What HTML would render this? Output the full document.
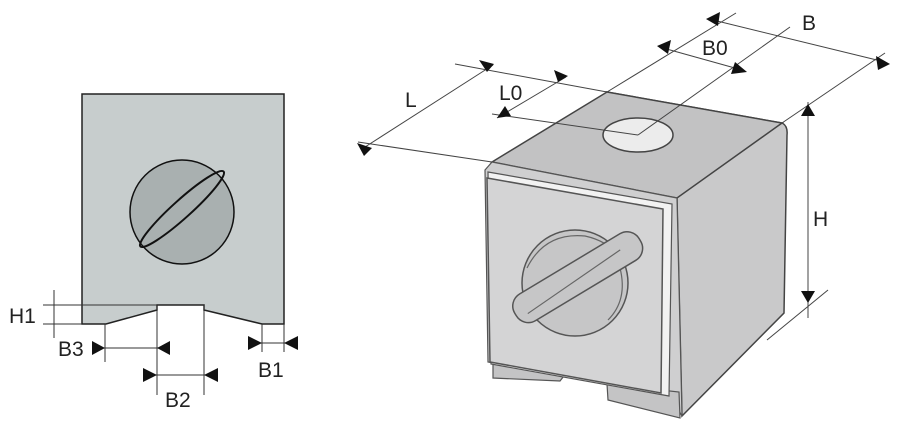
<!DOCTYPE html>
<html><head><meta charset="utf-8"><style>
html,body{margin:0;padding:0;background:#fff;}
svg{display:block;}
text{font-family:"Liberation Sans",sans-serif;font-size:21px;fill:#222;}
</style></head><body>
<svg width="900" height="428" viewBox="0 0 900 428" xmlns="http://www.w3.org/2000/svg">
<!-- LEFT VIEW -->
<path d="M82,94 L284,94 L284,324 L262,324 L204,310 L204,305 L157,305 L157,310 L106,324 L82,324 Z" fill="#c7cdcd" stroke="#222" stroke-width="1.5"/>
<circle cx="182" cy="212" r="52" fill="#a9b0b0" stroke="#111" stroke-width="1.5"/>
<ellipse cx="182" cy="209" rx="56" ry="9" transform="rotate(-42 182 209)" fill="none" stroke="#111" stroke-width="2"/>
<g stroke="#333" stroke-width="1" fill="none">
<line x1="43" y1="305" x2="157" y2="305"/><line x1="43" y1="324" x2="82" y2="324"/>
<line x1="54" y1="290" x2="54" y2="338"/>
<line x1="105" y1="324" x2="105" y2="362"/>
<line x1="157" y1="305" x2="157" y2="395"/><line x1="204" y1="305" x2="204" y2="395"/>
<line x1="262" y1="324" x2="262" y2="352"/><line x1="284" y1="324" x2="284" y2="352"/>
<line x1="92" y1="348" x2="170" y2="348"/>
<line x1="143" y1="375" x2="218" y2="375"/>
<line x1="248" y1="343" x2="298" y2="343"/>
</g>
<g fill="#111">
<path d="M92,341L105,348L92,355z"/><path d="M170,341L157,348L170,355z"/>
<path d="M143,368L157,375L143,382z"/><path d="M218,368L204,375L218,382z"/>
<path d="M248,336L262,343L248,350z"/><path d="M298,336L284,343L298,350z"/>
</g>
<text x="9" y="323">H1</text>
<text x="58" y="356">B3</text>
<text x="165" y="407">B2</text>
<text x="258" y="377">B1</text>

<!-- CUBE -->
<path d="M607,92 L782,123 Q788,126 787,135 L784,313 L682,416 L677,198 Z" fill="#c9c9ca" stroke="#444" stroke-width="1.5"/>
<path d="M492,162 L607,92 L782,123 L677,198 Z" fill="#c2c2c3" stroke="#444" stroke-width="1.5"/>
<path d="M485,170 L492,162 L677,198 L682,416 L670,395 L488,362 Z" fill="#cfcfd0" stroke="#555" stroke-width="1.2"/>
<path d="M493,360 L493,378 L560,381 L567,372 Z" fill="#c4c4c5" stroke="#555" stroke-width="1.2"/>
<path d="M607,384 L608,400 L680,418 L679,392 Z" fill="#c4c4c5" stroke="#555" stroke-width="1.2"/>
<path d="M488,172 L672,204 L669,396 L491,364 Z" fill="#f2f2f2" stroke="#555" stroke-width="1.2"/>
<path d="M487,178 L663,209 L661,393 L490,362 Z" fill="#d4d4d5" stroke="#555" stroke-width="1.5"/>
<ellipse cx="638" cy="135" rx="35" ry="17" fill="#ececec" stroke="#444" stroke-width="1.5"/>
<circle cx="575" cy="283" r="53" fill="#c6c6c7" stroke="#555" stroke-width="1.5"/>
<path d="M527,268 Q545,232 585,236 Q612,242 622,262" fill="none" stroke="#666" stroke-width="1.2"/>
<path d="M608,320 Q628,300 620,268" fill="none" stroke="#666" stroke-width="1.2"/>
<g transform="rotate(-31 577 277)">
<rect x="505" y="262" width="145" height="31" rx="14" fill="#c6c6c7" stroke="#555" stroke-width="1.5"/>
<line x1="516" y1="283" x2="628" y2="276" stroke="#666" stroke-width="1.2"/>
</g>

<!-- DIMENSIONS RIGHT -->
<g stroke="#444" stroke-width="1" fill="none">
<line x1="358" y1="142" x2="492" y2="162"/>
<line x1="455" y1="64" x2="607" y2="92"/>
<line x1="365" y1="147" x2="493" y2="65" />
<line x1="492" y1="114" x2="638" y2="135"/>
<line x1="497" y1="118" x2="566" y2="77"/>
<line x1="607" y1="92" x2="736" y2="13"/>
<line x1="638" y1="135" x2="790" y2="27"/>
<line x1="782" y1="123" x2="885" y2="53"/>
<line x1="663" y1="48" x2="742" y2="70"/>
<line x1="713" y1="20" x2="885" y2="62"/>
<line x1="808" y1="102" x2="808" y2="318"/>
<line x1="767" y1="340" x2="828" y2="290"/>
</g>
<g fill="#111">
<path d="M357,143 L372,148 L364,156 z"/>
<path d="M494,64 L479,60 L487,72 z"/>
<path d="M497,118 L505,106 L511,116 z"/>
<path d="M568,76 L554,70 L558,82 z"/>
<path d="M657,46 L671,40 L668,54 z"/>
<path d="M747,72 L735,62 L731,74 z"/>
<path d="M706,19 L720,12 L718,26 z"/>
<path d="M890,64 L876,56 L878,70 z"/>
<path d="M808,104 L801,116 L815,116 z"/>
<path d="M808,303 L801,291 L815,291 z"/>
</g>
<text x="405" y="107">L</text>
<text x="499" y="100">L0</text>
<text x="702" y="55">B0</text>
<text x="802" y="30">B</text>
<text x="813" y="226">H</text>
</svg>
</body></html>
